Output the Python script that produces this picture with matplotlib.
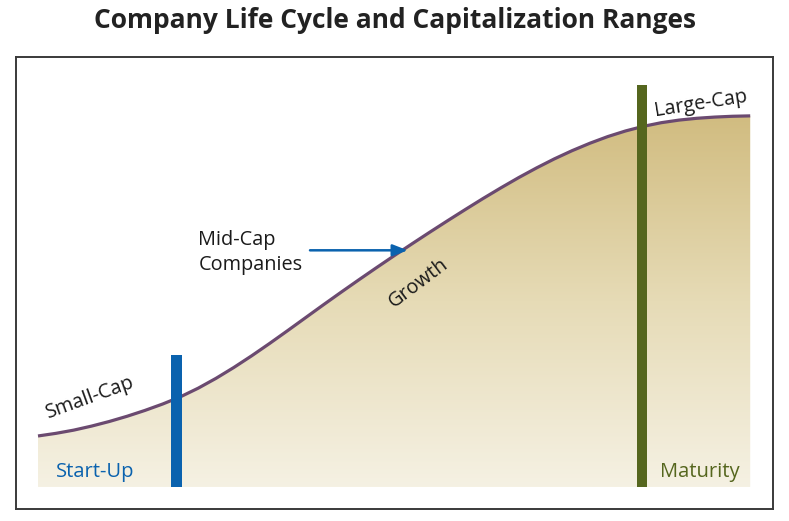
#!/usr/bin/env python3
# Company life cycle diagram: S-curve of capitalization vs. life-cycle stage.
import numpy as np
import matplotlib

matplotlib.use("Agg")
import matplotlib.pyplot as plt
from matplotlib.colors import LinearSegmentedColormap

plt.rcParams["font.family"] = ["Open Sans", "DejaVu Sans"]

# Life-cycle stage (0-100) and capitalization level (0-100).
stage = [0, 2.5, 5, 7.5, 10, 12.5, 15, 17.5, 20, 22.5, 25, 27.5, 30, 32.5,
         35, 37.5, 40, 42.5, 45, 47.5, 50, 52.5, 55, 57.5, 60, 62.5, 65,
         67.5, 70, 72.5, 75, 77.5, 80, 82.5, 85, 87.5, 90, 92.5, 95, 97.5, 100]
capitalization = [12.7, 13.35, 14.15, 15.15, 16.3, 17.6, 19.05, 20.65, 22.45,
                  24.6, 27.05, 29.75, 32.65, 35.7, 38.85, 42.05, 45.25, 48.4,
                  51.5, 54.55, 57.55, 60.5, 63.4, 66.25, 69.05, 71.8, 74.45,
                  77.0, 79.4, 81.65, 83.7, 85.55, 87.2, 88.6, 89.75, 90.65,
                  91.3, 91.75, 92.05, 92.25, 92.35]

# Stage boundaries (vertical bars) and their heights.
boundary_stage = [19.4, 84.8]
boundary_top = [32.9, 100.0]
boundary_colors = ["#0A62AE", "#55661E"]

TITLE = "Company Life Cycle and Capitalization Ranges"

fig = plt.figure(figsize=(7.89, 5.21), dpi=100)
ax = fig.add_axes([16 / 789, 1 - 509 / 521, 757 / 789, 452 / 521])
ax.set_xlim(-3.09, 103.2)
ax.set_ylim(-5.47, 107.0)
for side in ax.spines.values():
    side.set_color("#3A3A3A")
    side.set_linewidth(1.4)
ax.set_xticks([])
ax.set_yticks([])

# Gradient fill under the curve
cmap = LinearSegmentedColormap.from_list("tan", ["#F5F1E3", "#E6DBB6", "#D1BC80"])
grad = np.linspace(0, 1, 256).reshape(-1, 1)
img = ax.imshow(grad, cmap=cmap, origin="lower", aspect="auto",
                extent=(0, 100, 0, max(capitalization)), zorder=1)
poly = ax.fill_between(stage, 0, capitalization, color="none", lw=0)
clip = poly.get_paths()[0]
img.set_clip_path(clip, transform=ax.transData)

ax.plot(stage, capitalization, color="#6B4A70", linewidth=2.3,
        solid_capstyle="butt", solid_joinstyle="round", zorder=3)

# Boundary bars
for xs, top, col in zip(boundary_stage, boundary_top, boundary_colors):
    ax.bar(xs, top, width=1.5, bottom=0, color=col, zorder=4)

# Labels
LABEL_SIZE = 14.3
ax.text(7.3, 22.3, "Small-Cap", rotation=20, fontsize=LABEL_SIZE, color="#1A1A1A",
        ha="center", va="center", zorder=5)
ax.text(2.5, 3.7, "Start-Up", fontsize=14.5, color="#0A62AE",
        ha="left", va="center", zorder=5)
ax.text(22.5, 58.3, "Mid-Cap\nCompanies", fontsize=LABEL_SIZE, color="#1A1A1A",
        ha="left", va="center", linespacing=1.3, zorder=5)
ax.annotate("", xy=(52.3, 58.9), xytext=(37.8, 58.9),
            arrowprops=dict(arrowstyle="-|>,head_length=0.9,head_width=0.35",
                            color="#0A62AE", lw=1.8), zorder=5)
ax.text(53.4, 50.8, "Growth", rotation=37, fontsize=LABEL_SIZE, color="#1A1A1A",
        ha="center", va="center", zorder=5)
ax.text(93.0, 95.3, "Large-Cap", rotation=9, fontsize=LABEL_SIZE, color="#1A1A1A",
        ha="center", va="center", zorder=5)
ax.text(87.3, 3.7, "Maturity", fontsize=14.5, color="#55661E",
        ha="left", va="center", zorder=5)

fig.text(0.5, 1 - 21 / 521, TITLE, ha="center", va="center",
         fontsize=19, fontweight="bold", color="#222222")

fig.savefig("out.png", dpi=100)
